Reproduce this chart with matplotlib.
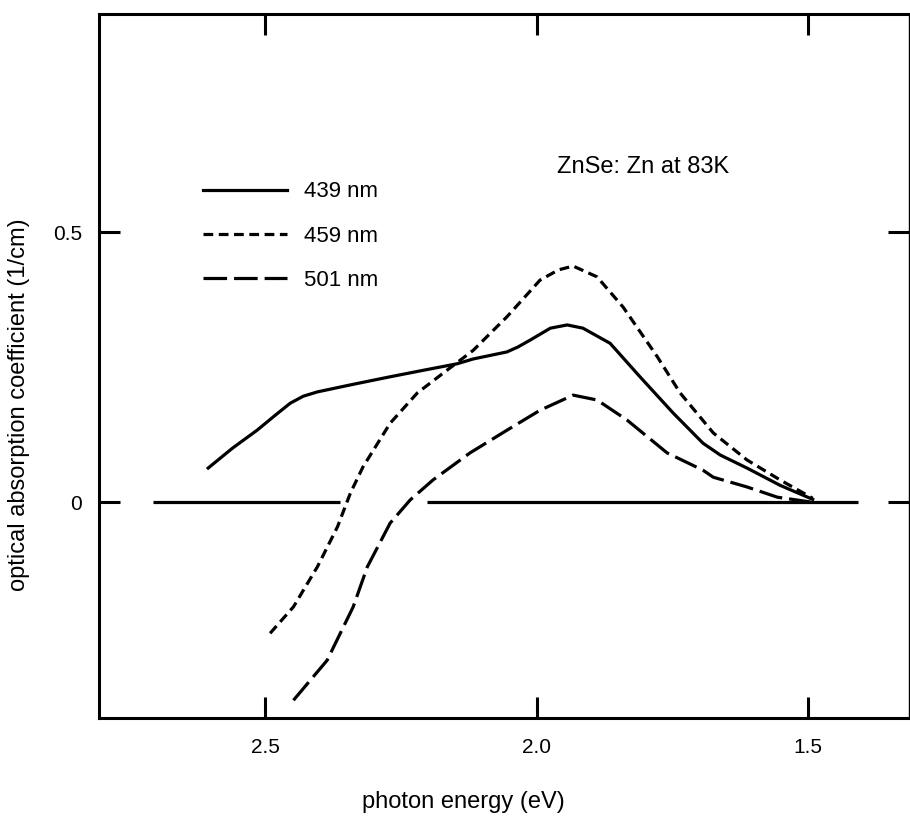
import matplotlib
matplotlib.use("Agg")
import matplotlib.pyplot as plt
from matplotlib.lines import Line2D

plt.rcParams['lines.scale_dashes'] = False

# ---- data ----
E_439 = [2.605, 2.56, 2.515, 2.48, 2.454, 2.43, 2.404, 2.343, 2.27, 2.209, 2.147, 2.117, 2.055,
         2.035, 2.012, 1.975, 1.944, 1.915, 1.865, 1.81, 1.749, 1.694, 1.662, 1.613, 1.552, 1.492]
A_439 = [0.063, 0.10, 0.133, 0.162, 0.183, 0.196, 0.204, 0.217, 0.232, 0.244, 0.256, 0.265, 0.278,
         0.287, 0.30, 0.322, 0.328, 0.322, 0.294, 0.232, 0.165, 0.109, 0.087, 0.063, 0.031, 0.005]

E_459 = [2.491, 2.448, 2.404, 2.367, 2.343, 2.32, 2.27, 2.22, 2.172, 2.117, 2.055,
         1.994, 1.96, 1.933, 1.889, 1.841, 1.778, 1.736, 1.675, 1.613, 1.552, 1.492]
A_459 = [-0.243, -0.194, -0.12, -0.046, 0.017, 0.065, 0.146, 0.202, 0.239, 0.281, 0.343,
         0.411, 0.43, 0.437, 0.417, 0.361, 0.269, 0.202, 0.128, 0.078, 0.041, 0.007]

E_501 = [2.448, 2.386, 2.338, 2.312, 2.27, 2.233, 2.191, 2.123, 2.055, 1.994, 1.933,
         1.889, 1.834, 1.76, 1.694, 1.675, 1.613, 1.557, 1.495]
A_501 = [-0.367, -0.293, -0.194, -0.12, -0.039, 0.004, 0.041, 0.091, 0.133, 0.170, 0.198,
         0.189, 0.152, 0.091, 0.059, 0.046, 0.028, 0.009, 0.0]

zero_seg_start = [2.706, 2.202]
zero_seg_end = [2.362, 1.408]

x_ticks = [2.5, 2.0, 1.5]
x_ticklabels = ["2.5", "2.0", "1.5"]
y_ticks = [0.0, 0.5]
y_ticklabels = ["0", "0.5"]
labels = ["439 nm", "459 nm", "501 nm"]

sans = ['Liberation Sans', 'DejaVu Sans']

fig = plt.figure(figsize=(9.10, 8.16), dpi=100)
ax = fig.add_axes([0.1088, 0.120, 0.8905, 0.863])

lw = 2.3
style_459 = (0, (7, 4))
style_501 = (0, (17, 5))
ax.hlines([0, 0], zero_seg_start, zero_seg_end, colors='black', linewidth=lw)
ax.plot(E_439, A_439, color='black', linewidth=lw, linestyle='-', solid_joinstyle='round')
ax.plot(E_459, A_459, color='black', linewidth=lw, linestyle=style_459, dash_joinstyle='round')
ax.plot(E_501, A_501, color='black', linewidth=lw, linestyle=style_501, dash_joinstyle='round')

ax.set_xlim(2.806, 1.314)
ax.set_ylim(-0.40, 0.904)

ax.set_xticks(x_ticks)
ax.set_xticklabels(x_ticklabels, family=sans, fontsize=15)
ax.set_yticks(y_ticks)
ax.set_yticklabels(y_ticklabels, family=sans, fontsize=15)
ax.tick_params(axis='both', direction='in', length=15, width=2.2,
               top=True, right=True, labeltop=False, labelright=False)
ax.tick_params(axis='x', pad=14)
ax.tick_params(axis='y', pad=12)

for s in ['left', 'top', 'bottom']:
    ax.spines[s].set_linewidth(2.2)
ax.spines['right'].set_linewidth(1.0)

ax.set_xlabel("photon energy (eV)", family=sans, fontsize=17)
ax.xaxis.set_label_coords(0.45, -0.103)
ax.set_ylabel("optical absorption coefficient (1/cm)", family=sans, fontsize=17)
ax.yaxis.set_label_coords(-0.085, 0.445)

ax.text(0.565, 0.783, "ZnSe: Zn at 83K", transform=ax.transAxes, family=sans,
        fontsize=17, va='center', ha='left')

handles = [Line2D([], [], color='black', linewidth=lw, linestyle='-'),
           Line2D([], [], color='black', linewidth=lw, linestyle=style_459),
           Line2D([], [], color='black', linewidth=lw, linestyle=style_501)]
leg = ax.legend(handles, labels, loc='upper left', bbox_to_anchor=(0.128, 0.762),
                frameon=False, handlelength=3.8, handletextpad=0.75, labelspacing=1.05,
                borderpad=0, borderaxespad=0, prop={'family': sans, 'size': 16})

fig.savefig("out.png", dpi=100)
